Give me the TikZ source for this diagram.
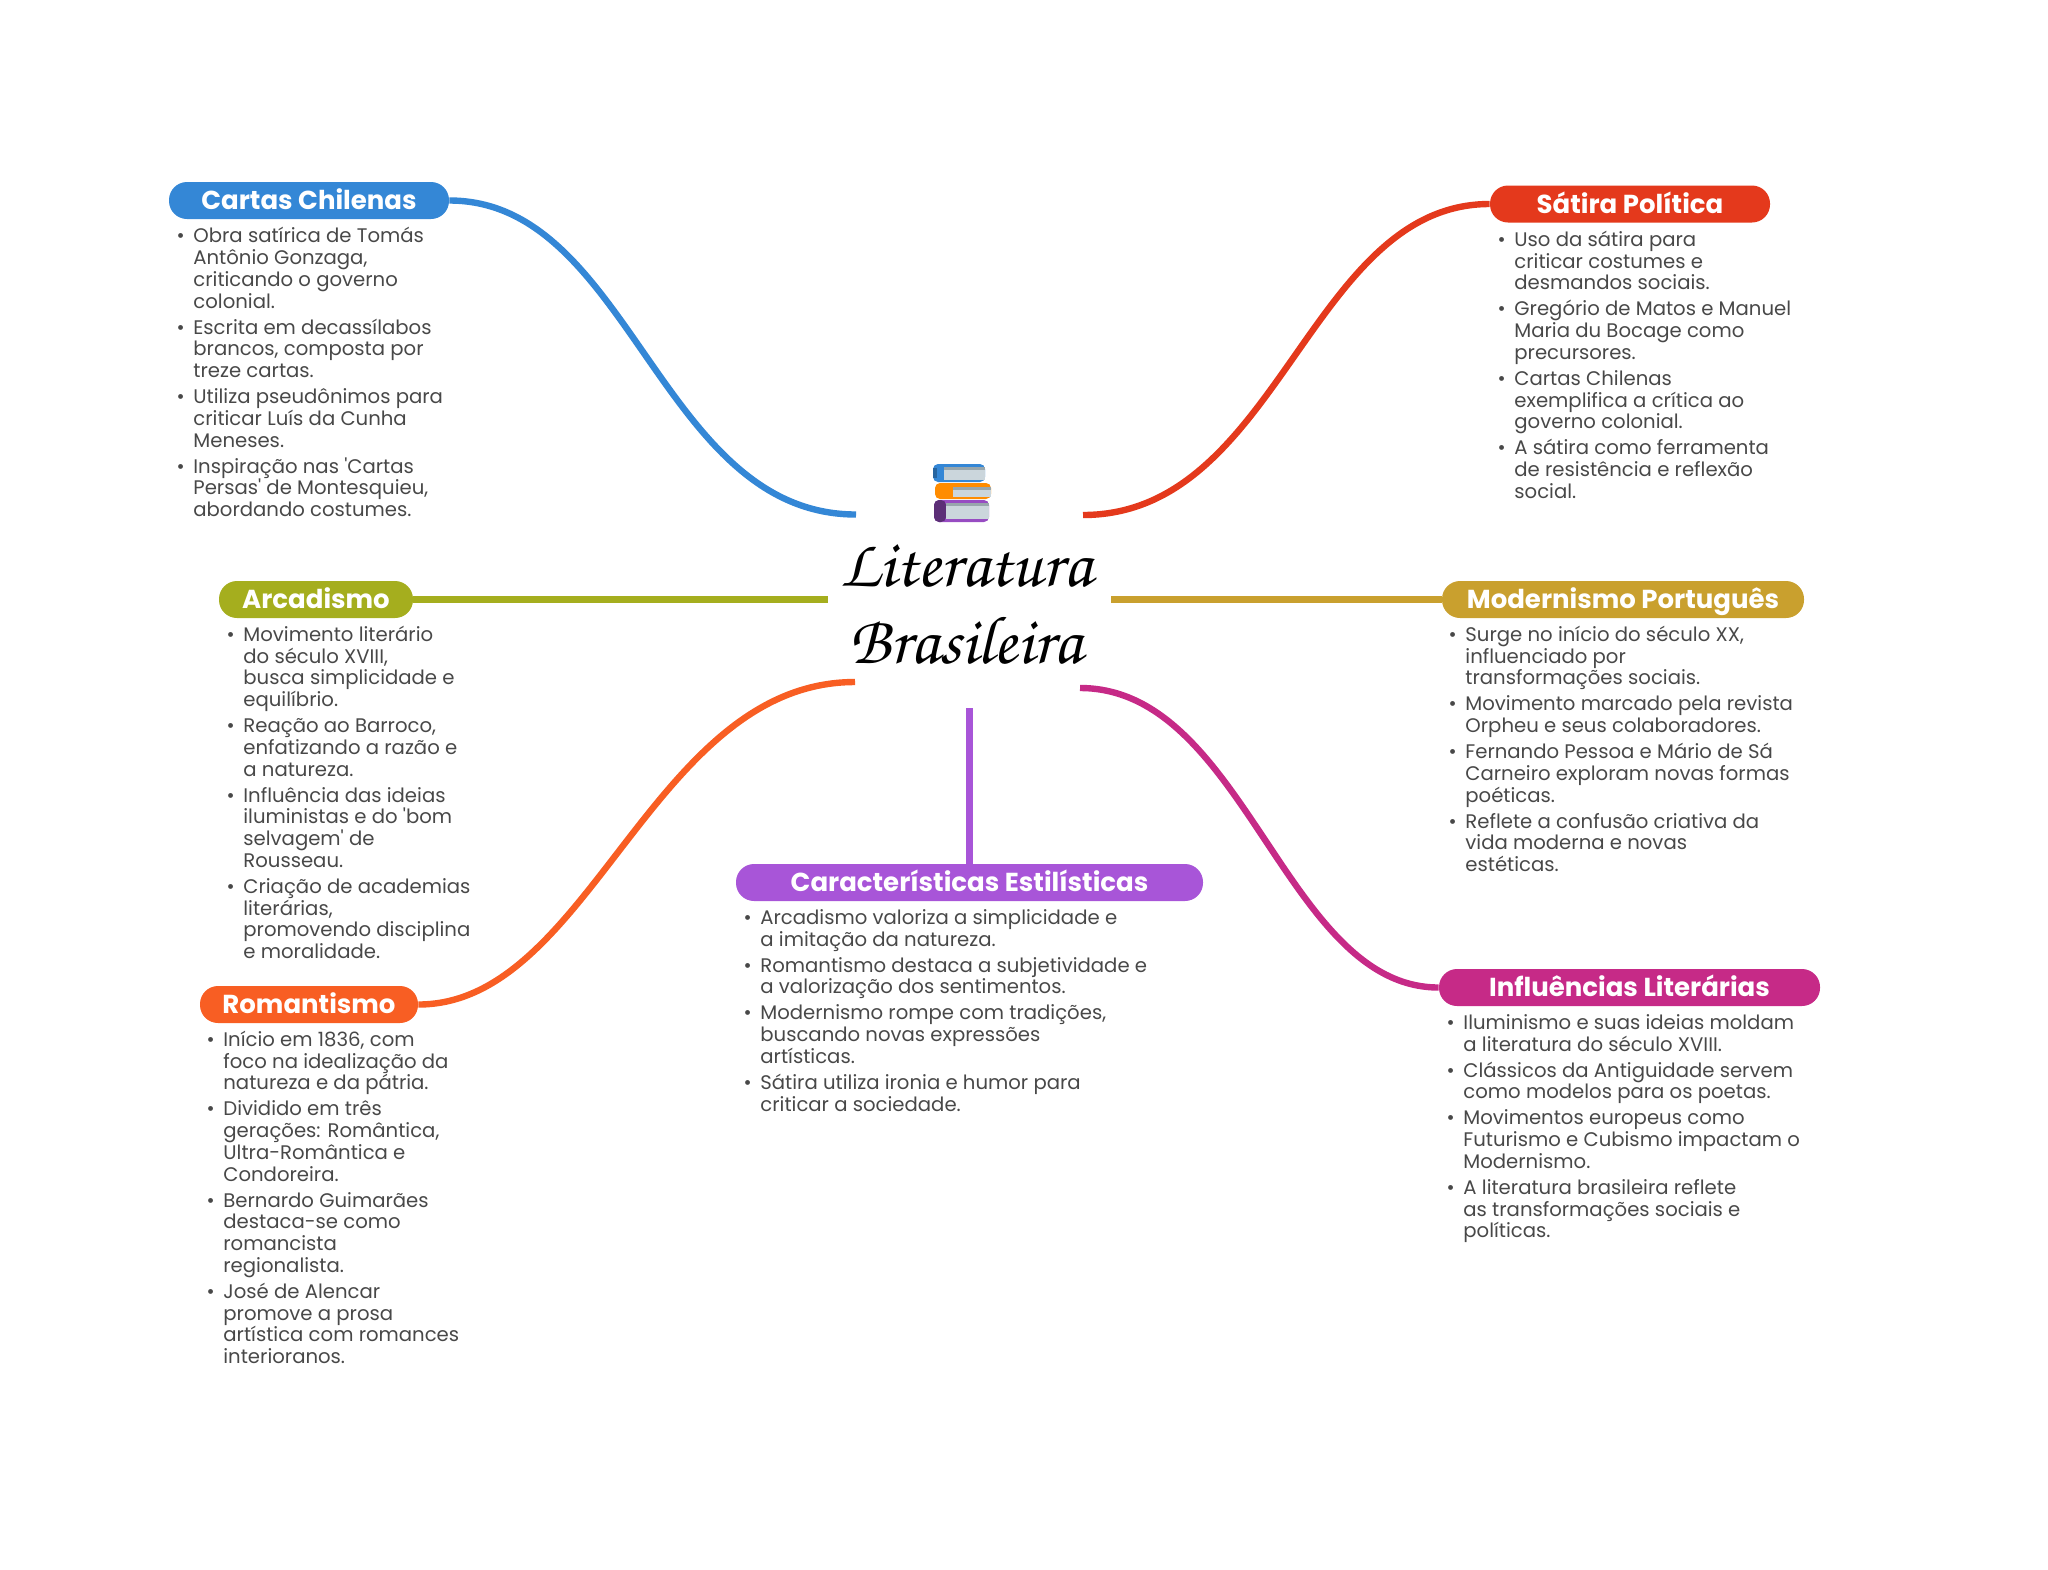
\documentclass[tikz,border=0pt]{standalone}
\usepackage[T1,TU]{fontenc}
\usepackage{fontspec}
\newfontfamily\popfont{Poppins}
\newcommand{\linkwidth}{3.2pt}
\newcommand{\itm}{\rule{0pt}{9pt}\llap{\textbullet\hspace{4.4pt}}}
\newcommand{\lastln}[1]{\smash{#1}\\[2.1pt]}
\definecolor{cartascolor}{HTML}{3487D6}
\definecolor{satiracolor}{HTML}{E4391C}
\definecolor{arcadecolor}{HTML}{A5AE1E}
\definecolor{modernocolor}{HTML}{C9A02E}
\definecolor{romancolor}{HTML}{F85E23}
\definecolor{estilocolor}{HTML}{A855D8}
\definecolor{influcolor}{HTML}{C62A87}
\definecolor{bodytext}{HTML}{484848}
\definecolor{pagecolor}{HTML}{CBD6DC}
\definecolor{pagetop}{HTML}{98A6AC}
\tikzset{
  pill/.style={rounded corners=9pt, inner sep=0pt, text=white, minimum height=18.5pt,
    text height=11pt, text depth=2pt,
    font=\popfont\bfseries\fontsize{13}{15}\selectfont},
  bullets/.style={anchor=north west, inner sep=0pt, align=left, text=bodytext,
    font=\popfont\fontsize{9.83}{10.88}\selectfont},
  link/.style={line width=\linkwidth},
  bookcover/.style={rounded corners=2.5pt},
}
\begin{document}
\begin{tikzpicture}[x=0.5pt,y=-0.5pt]
\useasboundingbox (0,0) rectangle (2048,1569);
%title
\node[align=center, inner sep=0pt, font=\fontencoding{T1}\fontfamily{pzc}\fontshape{it}\fontsize{34}{38.5}\selectfont] (title) at (966,605) {Literatura\\Brasileira};
%books
\fill[bookcover, cartascolor] (933,464) rectangle (985,482);
\fill[pagecolor] (944,467) rectangle (985,480);
\fill[pagetop] (944,467) rectangle (985,470);
\fill[cartascolor!75!black] (933,468) rectangle (937,478);
\fill[bookcover, orange!90!yellow] (935,483) rectangle (991,499);
\fill[pagecolor] (953,487) rectangle (991,497);
\fill[pagetop] (953,487) rectangle (991,490);
\fill[bookcover, estilocolor!90!black] (934,500) rectangle (989,522);
\fill[bookcover, estilocolor!55!black] (934,500) rectangle (946,522);
\fill[pagecolor] (946,503) rectangle (989,519);
\fill[pagetop] (946,503) rectangle (989,506);
%pills
\node[pill, fill=cartascolor, minimum width=140pt] (cartas) at (309,200.5) {Cartas Chilenas};
\node[pill, fill=satiracolor, minimum width=140pt] (satira) at (1630,204) {Sátira Política};
\node[pill, fill=arcadecolor, minimum width=97pt] (arcade) at (316,599.5) {Arcadismo};
\node[pill, fill=modernocolor, minimum width=181pt] (moderno) at (1623,599.5) {Modernismo Português};
\node[pill, fill=romancolor, minimum width=109pt] (roman) at (309,1004.5) {Romantismo};
\node[pill, fill=estilocolor, minimum width=233.5pt] (estilo) at (969.5,882.5) {Características Estilísticas};
\node[pill, fill=influcolor, minimum width=190.5pt] (influ) at (1629.5,987.5) {Influências Literárias};
%link ends
\coordinate (c1) at (856,514.5);
\coordinate (c2) at (1083,515);
\coordinate (c3) at (828,599.5);
\coordinate (c4) at (1111,599.5);
\coordinate (c5) at (855,682);
\coordinate (c6) at (969.5,708);
\coordinate (c7) at (1080,688);
%links
\draw[link, cartascolor] (cartas.east) .. controls (630,200.5) and (660,514.5) .. (c1);
\draw[link, satiracolor] (satira.west) .. controls (1309,204) and (1279,515) .. (c2);
\draw[link, arcadecolor] (arcade.east) -- (c3);
\draw[link, modernocolor] (moderno.west) -- (c4);
\draw[link, romancolor] (roman.east) .. controls (590,1004.5) and (652,682) .. (c5);
\draw[link, estilocolor] (estilo.north) -- (c6);
\draw[link, influcolor] (influ.west) .. controls (1285,987.5) and (1245,688) .. (c7);
%lists
\node[bullets] (cartaslist) at (193,224.5) {\itm Obra satírica de Tomás\\Antônio Gonzaga,\\criticando o governo\\\lastln{colonial.}
\itm Escrita em decassílabos\\brancos, composta por\\\lastln{treze cartas.}
\itm Utiliza pseudônimos para\\criticar Luís da Cunha\\\lastln{Meneses.}
\itm Inspiração nas 'Cartas\\Persas' de Montesquieu,\\abordando costumes.};
\node[bullets] (satiralist) at (1514,228) {\itm Uso da sátira para\\criticar costumes e\\\lastln{desmandos sociais.}
\itm Gregório de Matos e Manuel\\Maria du Bocage como\\\lastln{precursores.}
\itm Cartas Chilenas\\exemplifica a crítica ao\\\lastln{governo colonial.}
\itm A sátira como ferramenta\\de resistência e reflexão\\social.};
\node[bullets] (arcadelist) at (243,623) {\itm Movimento literário\\do século XVIII,\\busca simplicidade e\\\lastln{equilíbrio.}
\itm Reação ao Barroco,\\enfatizando a razão e\\\lastln{a natureza.}
\itm Influência das ideias\\iluministas e do 'bom\\selvagem' de\\\lastln{Rousseau.}
\itm Criação de academias\\literárias,\\promovendo disciplina\\e moralidade.};
\node[bullets] (modernolist) at (1465,623) {\itm Surge no início do século XX,\\influenciado por\\\lastln{transformações sociais.}
\itm Movimento marcado pela revista\\\lastln{Orpheu e seus colaboradores.}
\itm Fernando Pessoa e Mário de Sá\\Carneiro exploram novas formas\\\lastln{poéticas.}
\itm Reflete a confusão criativa da\\vida moderna e novas\\estéticas.};
\node[bullets] (romanlist) at (223,1028) {\itm Início em 1836, com\\foco na idealização da\\\lastln{natureza e da pátria.}
\itm Dividido em três\\gerações: Romântica,\\Ultra-Romântica e\\\lastln{Condoreira.}
\itm Bernardo Guimarães\\destaca-se como\\romancista\\\lastln{regionalista.}
\itm José de Alencar\\promove a prosa\\artística com romances\\interioranos.};
\node[bullets] (estilolist) at (760,906) {\itm Arcadismo valoriza a simplicidade e\\\lastln{a imitação da natureza.}
\itm Romantismo destaca a subjetividade e\\\lastln{a valorização dos sentimentos.}
\itm Modernismo rompe com tradições,\\buscando novas expressões\\\lastln{artísticas.}
\itm Sátira utiliza ironia e humor para\\criticar a sociedade.};
\node[bullets] (influlist) at (1463,1011) {\itm Iluminismo e suas ideias moldam\\\lastln{a literatura do século XVIII.}
\itm Clássicos da Antiguidade servem\\\lastln{como modelos para os poetas.}
\itm Movimentos europeus como\\Futurismo e Cubismo impactam o\\\lastln{Modernismo.}
\itm A literatura brasileira reflete\\as transformações sociais e\\políticas.};
\end{tikzpicture}
\end{document}
